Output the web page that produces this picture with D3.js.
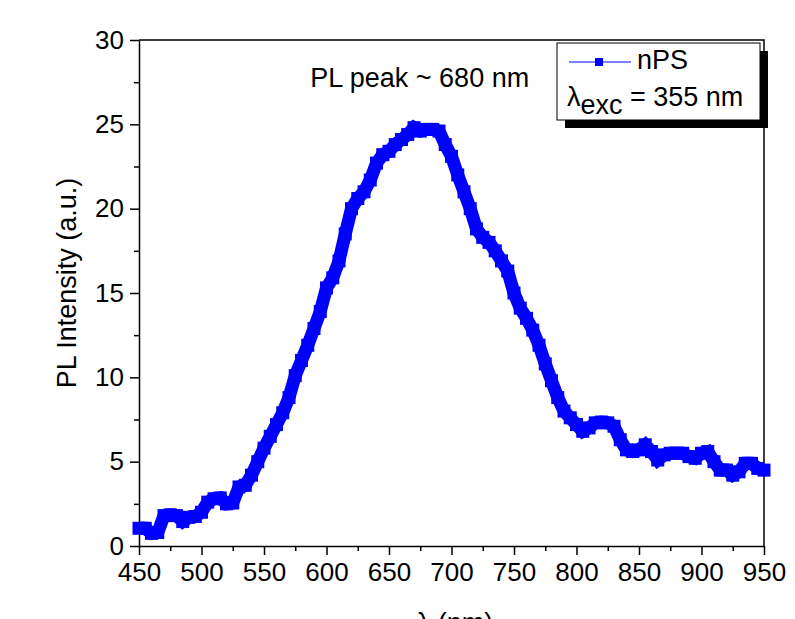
<!DOCTYPE html>
<html>
<head>
<meta charset="utf-8">
<script src="https://cdn.jsdelivr.net/npm/d3@7"></script>
<style>
  body { margin: 0; background: #fff; }
  svg { display: block; font-family: Arial, "Liberation Sans", sans-serif; }
</style>
</head>
<body>
<div id="chart"></div>
<script>
// wavelength (nm) and PL intensity (a.u.)
const wavelength = d3.range(450, 951, 5);
const intensity = [
  1.05, 1.05, 0.75, 0.8, 1.8, 1.85, 1.8, 1.45, 1.7, 1.75,
  2.0, 2.6, 2.8, 2.85, 2.5, 2.55, 3.5, 3.6, 4.2, 5.0,
  5.8, 6.5, 7.2, 7.9, 8.8, 10.1, 11.0, 11.9, 12.9, 13.9,
  15.3, 15.9, 16.9, 18.5, 20.0, 20.6, 21.0, 21.7, 22.7, 23.2,
  23.4, 23.8, 24.1, 24.4, 24.8, 24.6, 24.7, 24.7, 24.6, 23.8,
  23.1, 22.0, 21.0, 20.0, 18.8, 18.3, 18.0, 17.5, 16.9, 16.3,
  15.0, 14.1, 13.5, 12.8, 11.9, 10.8, 9.8, 8.8, 8.0, 7.6,
  7.2, 6.8, 7.0, 7.3, 7.35, 7.3, 7.1, 6.3, 5.7, 5.6,
  5.7, 6.0, 5.6, 5.1, 5.4, 5.5, 5.5, 5.5, 5.3, 5.2,
  5.5, 5.6, 5.0, 4.5, 4.5, 4.2, 4.4, 4.9, 4.9, 4.6,
  4.5
];
const xTicks = [450, 500, 550, 600, 650, 700, 750, 800, 850, 900, 950];
const yTicks = [0, 5, 10, 15, 20, 25, 30];
const seriesName = "nPS";
const annotation = "PL peak ~ 680 nm";

const data = wavelength.map((w, i) => ({ w, v: intensity[i] }));

const W = 795, H = 619;
const margin = { top: 40, right: 31, bottom: 73, left: 139 };
const width = W - margin.left - margin.right;
const height = H - margin.top - margin.bottom;
const fs = 27;

const svg = d3.select("#chart").append("svg")
  .attr("width", W)
  .attr("height", H);

const g = svg.append("g")
  .attr("transform", `translate(${margin.left},${margin.top})`);

const x = d3.scaleLinear().domain([450, 950]).range([0, width]);
const y = d3.scaleLinear().domain([0, 30]).range([height, 0]);

// minor ticks
const xMinor = d3.range(475, 950, 50);
const yMinor = d3.range(2.5, 30, 5);

g.append("g")
  .attr("transform", `translate(0,${height})`)
  .call(d3.axisBottom(x).tickValues(xMinor).tickSize(5).tickFormat(""))
  .call(a => a.select(".domain").remove());
g.append("g")
  .call(d3.axisLeft(y).tickValues(yMinor).tickSize(5).tickFormat(""))
  .call(a => a.select(".domain").remove());

const xAxis = g.append("g")
  .attr("transform", `translate(0,${height})`)
  .call(d3.axisBottom(x).tickValues(xTicks).tickSize(9).tickSizeOuter(0).tickPadding(8));
const yAxis = g.append("g")
  .call(d3.axisLeft(y).tickValues(yTicks).tickSize(9).tickSizeOuter(0).tickPadding(6));

[xAxis, yAxis].forEach(a => {
  a.selectAll("text").attr("font-size", 26).attr("fill", "#000").attr("font-family", "Arial, 'Liberation Sans', sans-serif");
});
g.selectAll(".tick line").attr("stroke", "#000").attr("stroke-width", 1.5);
g.selectAll(".domain").attr("stroke", "#000").attr("stroke-width", 1.5);

// top and right frame
g.append("path")
  .attr("d", `M0,0H${width}V${height}`)
  .attr("fill", "none")
  .attr("stroke", "#000")
  .attr("stroke-width", 1.5);

// the spectrum: thick line plus square markers
const blue = "#0000ff";
const line = d3.line().x(d => x(d.w)).y(d => y(d.v));
g.append("path")
  .datum(data)
  .attr("d", line)
  .attr("fill", "none")
  .attr("stroke", blue)
  .attr("stroke-width", 13)
  .attr("stroke-linejoin", "miter");

const sq = 13;
g.selectAll("rect.pt")
  .data(data)
  .join("rect")
  .attr("class", "pt")
  .attr("x", d => x(d.w) - sq / 2)
  .attr("y", d => y(d.v) - sq / 2)
  .attr("width", sq)
  .attr("height", sq)
  .attr("fill", blue);

// annotation
g.append("text")
  .attr("x", x(587))
  .attr("y", 46.5)
  .attr("font-size", fs)
  .text(annotation);

// legend with drop shadow
const lg = svg.append("g").attr("transform", "translate(557,43)");
lg.append("rect").attr("x", 8).attr("y", 8).attr("width", 203).attr("height", 77).attr("fill", "#000");
lg.append("rect").attr("width", 203).attr("height", 77).attr("fill", "#fff").attr("stroke", "#000").attr("stroke-width", 1);
lg.append("line").attr("x1", 12).attr("x2", 74).attr("y1", 19).attr("y2", 19).attr("stroke", blue).attr("stroke-width", 1);
lg.append("rect").attr("x", 38).attr("y", 15).attr("width", 8).attr("height", 8).attr("fill", blue);
lg.append("text").attr("x", 80).attr("y", 25.5).attr("font-size", fs).text(seriesName);
const lam = lg.append("text").attr("x", 10).attr("y", 63).attr("font-size", fs);
lam.append("tspan").text("λ");
lam.append("tspan").attr("dy", 8).text("exc");
lam.append("tspan").attr("dy", -8).text(" = 355 nm");

// axis titles
svg.append("text")
  .attr("transform", `translate(76,283) rotate(-90)`)
  .attr("text-anchor", "middle")
  .attr("font-size", fs)
  .text("PL Intensity (a.u.)");

svg.append("text")
  .attr("x", 455)
  .attr("y", 632)
  .attr("text-anchor", "middle")
  .attr("font-size", fs)
  .text("λ (nm)");
</script>
</body>
</html>
